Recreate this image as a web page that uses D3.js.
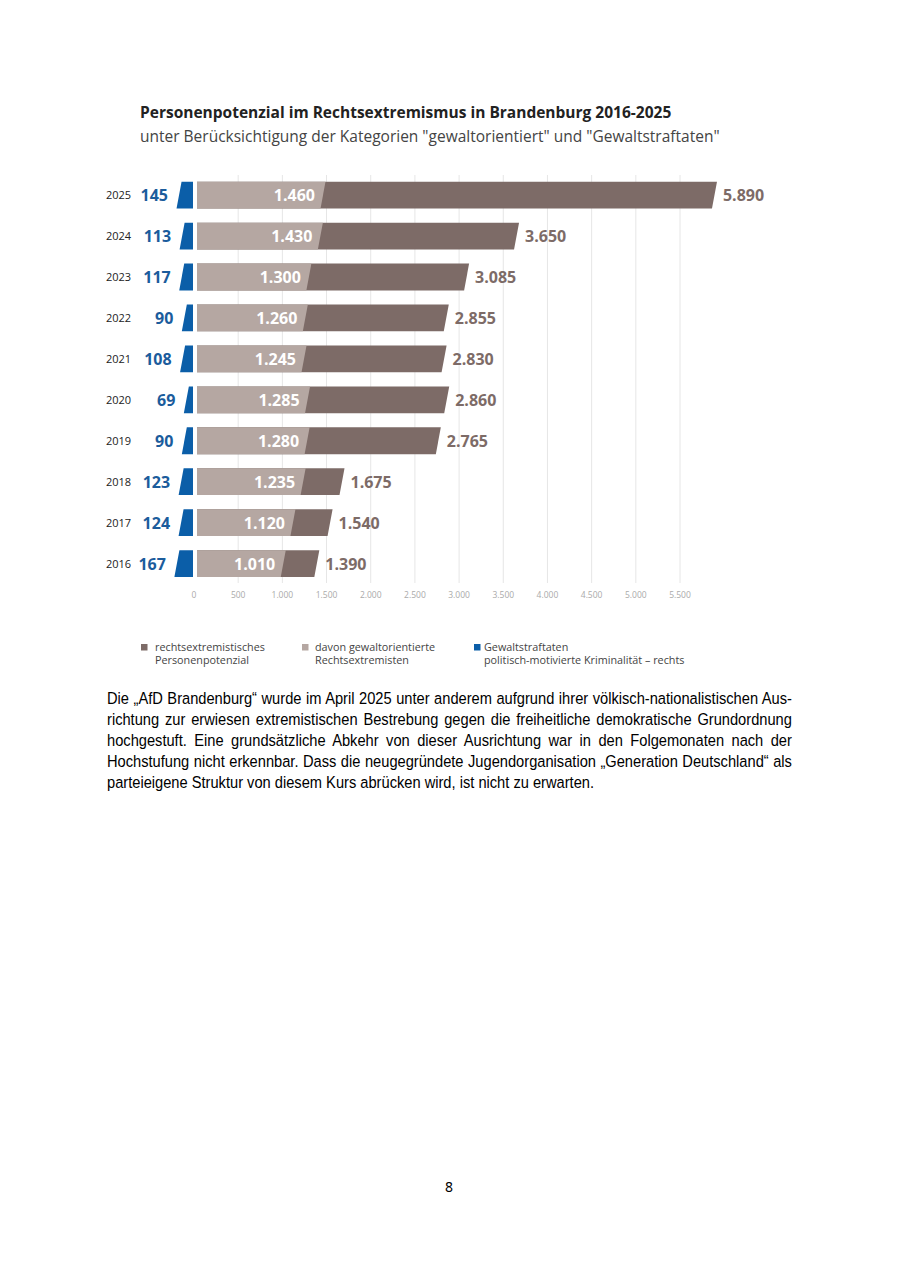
<!DOCTYPE html>
<meta charset="utf-8">
<style>
body { margin: 0; background: #fff; }
#page { position: relative; width: 900px; height: 1272px; }
svg { position: absolute; left: 0; top: 0; }
/* narrow body font is not installed, so squeeze Liberation Sans horizontally */
.body-text {
  position: absolute; left: 107px; top: 688px; width: 761px;
  transform: scaleX(0.9); transform-origin: 0 0;
  font-family: "Liberation Sans Narrow", "Arial Narrow", "Liberation Sans", sans-serif;
  font-size: 16.3px; line-height: 21px; color: #000;
}
.body-text div { text-align: justify; text-align-last: justify; white-space: nowrap; }
.body-text div.last { text-align-last: left; }
</style>
<body>
<div id="page"></div>
<script src="https://d3js.org/d3.v7.min.js"></script>
<script>

// data
var years    = ["2025", "2024", "2023", "2022", "2021", "2020", "2019", "2018", "2017", "2016"];
var total    = [5890, 3650, 3085, 2855, 2830, 2860, 2765, 1675, 1540, 1390];  // rechtsextremistisches Personenpotenzial
var violent  = [1460, 1430, 1300, 1260, 1245, 1285, 1280, 1235, 1120, 1010];  // davon gewaltorientiert
var crimes   = [145, 113, 117, 90, 108, 69, 90, 123, 124, 167];               // Gewaltstraftaten PMK rechts
var tickVals = [0, 500, 1000, 1500, 2000, 2500, 3000, 3500, 4000, 4500, 5000, 5500];

var legendItems = [
  {color: "#7d6b67", lines: ["rechtsextremistisches", "Personenpotenzial"]},
  {color: "#b5a7a2", lines: ["davon gewaltorientierte", "Rechtsextremisten"]},
  {color: "#0b5ea8", lines: ["Gewaltstraftaten", "politisch-motivierte Kriminalität – rechts"]}
];

var bodyLines = [
  "Die „AfD Brandenburg“ wurde im April 2025 unter anderem aufgrund ihrer völkisch-nationalistischen Aus-",
  "richtung zur erwiesen extremistischen Bestrebung gegen die freiheitliche demokratische Grundordnung",
  "hochgestuft. Eine grundsätzliche Abkehr von dieser Ausrichtung war in den Folgemonaten nach der",
  "Hochstufung nicht erkennbar. Dass die neugegründete Jugendorganisation „Generation Deutschland“ als",
  "parteieigene Struktur von diesem Kurs abrücken wird, ist nicht zu erwarten."
];

var cDark = "#7d6b67", cLight = "#b5a7a2", cBlue = "#0b5ea8";
var font = "'Open Sans', sans-serif";

var svg = d3.select("#page").append("svg")
    .attr("width", 900)
    .attr("height", 1272);

// scales
var x = d3.scaleLinear().domain([0, 5500]).range([194, 680]);
var xb = d3.scaleLinear().domain([0, 5500]).range([0, 530]);   // small blue wedges
var y = d3.scaleBand().domain(years).range([176, 176 + 40.67 * 10]).paddingInner(0.345).paddingOuter(0.14);
var bh = y.bandwidth();
var slant = 5;

// title
svg.append("text").attr("x", 140).attr("y", 118)
    .style("font-family", font).style("font-weight", 700).style("font-size", "15.5px").style("fill", "#222")
    .text("Personenpotenzial im Rechtsextremismus in Brandenburg 2016-2025");
svg.append("text").attr("x", 140).attr("y", 142)
    .style("font-family", font).style("font-size", "15.5px").style("fill", "#444")
    .text("unter Berücksichtigung der Kategorien \"gewaltorientiert\" und \"Gewaltstraftaten\"");

// grid lines + tick labels
svg.append("g").selectAll("line").data(tickVals).join("line")
    .attr("x1", d => x(d)).attr("x2", d => x(d))
    .attr("y1", 175).attr("y2", 583)
    .attr("stroke", d => d === 0 ? "none" : "#e6e6e6").attr("stroke-width", 1);
svg.append("g").selectAll("text").data(tickVals).join("text")
    .attr("x", d => x(d)).attr("y", 598)
    .attr("text-anchor", "middle")
    .style("font-family", font).style("font-size", "8.5px").style("fill", "#aaa")
    .text(d => d3.format(",")(d).replace(/,/g, "."));

var fmt = d => d3.format(",")(d).replace(/,/g, ".");
var x0 = x(0) + 3;

function bar(v, yr) {
  var t = y(yr), b = t + bh, r = x(v);
  return [[x0, t], [r + slant / 2, t], [r - slant / 2, b], [x0, b]];
}

var rows = svg.append("g").selectAll("g").data(years).join("g");

// dark bars (total)
rows.append("polygon")
    .attr("points", (d, i) => bar(total[i], d).join(" "))
    .attr("fill", cDark);
// light bars (gewaltorientiert)
rows.append("polygon")
    .attr("points", (d, i) => bar(violent[i], d).join(" "))
    .attr("fill", cLight);
// blue wedges
rows.append("polygon")
    .attr("points", (d, i) => {
      var t = y(d), b = t + bh, rr = x(0) - 1, w = xb(crimes[i]);
      return [[rr - w + slant / 2, t], [rr, t], [rr, b], [rr - w - slant / 2, b]].join(" ");
    })
    .attr("fill", cBlue);

// year labels
rows.append("text")
    .attr("x", 106).attr("y", d => y(d) + bh / 2 + 4)
    .style("font-family", font).style("font-size", "11px").style("fill", "#222")
    .text(d => d);
// blue value labels
rows.append("text")
    .attr("x", (d, i) => x(0) - 1 - xb(crimes[i]) - 11)
    .attr("y", d => y(d) + bh / 2 + 6)
    .attr("text-anchor", "end")
    .style("font-family", font).style("font-weight", 700).style("font-size", "16px").style("fill", "#1b5c9c")
    .text((d, i) => crimes[i]);
// white labels inside light bars
rows.append("text")
    .attr("x", (d, i) => x(violent[i]) - 8)
    .attr("y", d => y(d) + bh / 2 + 6)
    .attr("text-anchor", "end")
    .style("font-family", font).style("font-weight", 700).style("font-size", "16px").style("fill", "#fff")
    .text((d, i) => fmt(violent[i]));
// total labels
rows.append("text")
    .attr("x", (d, i) => x(total[i]) + slant / 2 + 6)
    .attr("y", d => y(d) + bh / 2 + 6)
    .style("font-family", font).style("font-weight", 700).style("font-size", "16px").style("fill", cDark)
    .text((d, i) => fmt(total[i]));

// legend
var legSq = [141, 302, 474], legTx = [155, 315, 484];
var leg = svg.append("g").selectAll("g").data(legendItems).join("g");
leg.append("rect")
    .attr("x", (d, i) => legSq[i]).attr("y", 644)
    .attr("width", 6.5).attr("height", 6.5).attr("fill", d => d.color);
leg.append("text")
    .style("font-family", font).style("font-size", "10.8px").style("fill", "#444")
    .each(function(d, i) {
      d3.select(this).selectAll("tspan").data(d.lines).join("tspan")
        .attr("x", legTx[i]).attr("y", (l, j) => 651 + j * 13)
        .text(l => l);
    });

// body paragraph
d3.select("#page").append("div").attr("class", "body-text")
  .selectAll("div").data(bodyLines).join("div")
    .attr("class", (d, i) => i === bodyLines.length - 1 ? "last" : null)
    .text(d => d);

// page number
svg.append("text").attr("x", 449).attr("y", 1192).attr("text-anchor", "middle")
    .style("font-family", "'Noto Sans', sans-serif").style("font-size", "14px").style("fill", "#000")
    .text("8");

</script>
</body>
